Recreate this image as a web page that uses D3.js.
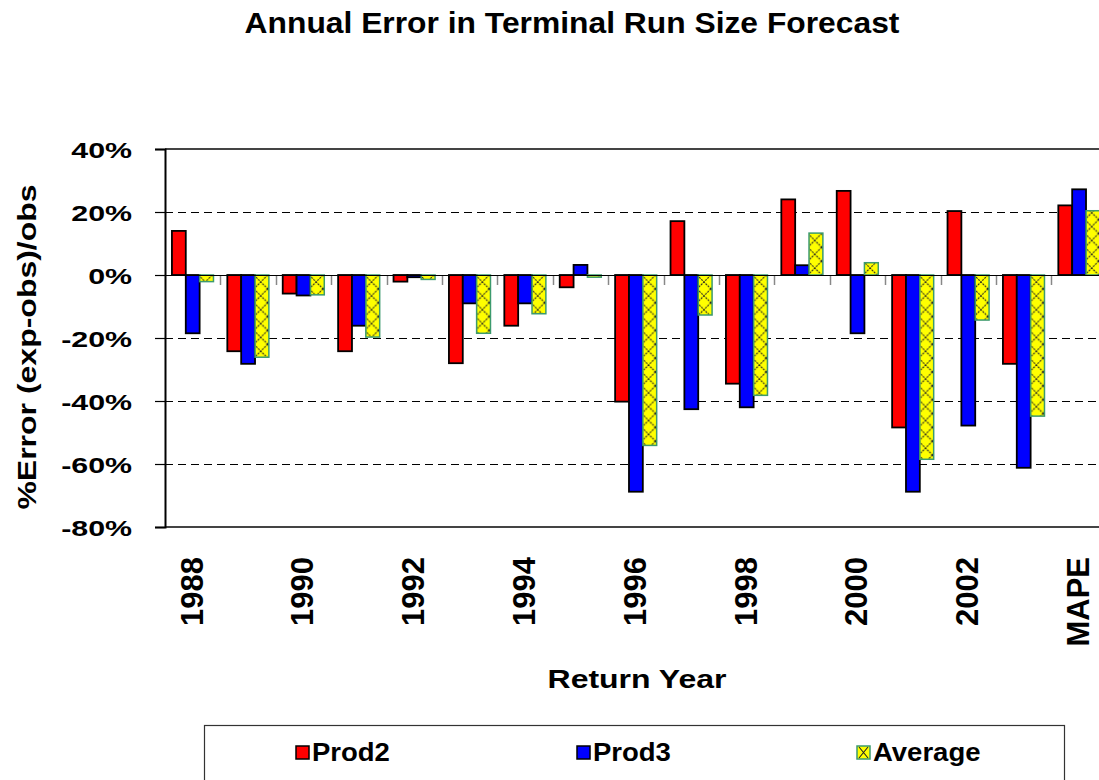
<!DOCTYPE html>
<html>
<head>
<meta charset="utf-8">
<script src="https://cdn.jsdelivr.net/npm/d3@7"></script>
<style>
  body { margin: 0; background: #fff; }
  text { font-family: "Liberation Sans", Arial, sans-serif; font-weight: bold; fill: #000; }
</style>
</head>
<body>
<div id="chart"></div>
<script>
// dades
let anys = ['1988', '1989', '1990', '1991', '1992', '1993', '1994', '1995', '1996',
  '1997', '1998', '1999', '2000', '2001', '2002', '2003', 'MAPE']
let prod2 = [14, -24.2, -5.9, -24.2, -2.1, -28, -16.1, -3.9, -40.2, 17.1, -34.5, 24, 26.7, -48.4, 20.3, -28.2, 22.1]
let prod3 = [-18.5, -28.2, -6.5, -16.1, -0.7, -9, -9, 3.2, -68.8, -42.6, -42, 3.1, -18.5, -68.8, -47.8, -61.2, 27.2]
let mitjana = [-2.1, -26.1, -6.3, -19.7, -1.4, -18.5, -12.3, -0.7, -54.1, -12.7, -38.2, 13.3, 3.9, -58.5, -14.3, -44.8, 20.4]
let series = ['Prod2', 'Prod3', 'Average']
let yTicks = [40, 20, 0, -20, -40, -60, -80]

// mides
let ample = 1099
let alt = 780
let esq = 165
let pas = 55.4
let dalt = 149
let baix = 527

let svg = d3.select('#chart')
  .append('svg')
  .attr('width', ample)
  .attr('height', alt)

let x0 = d3.scaleBand()
  .domain(anys)
  .range([esq, esq + anys.length * pas])
  .padding(0)

let x1 = d3.scaleBand()
  .domain(series)
  .range([0, x0.bandwidth()])
  .paddingInner(0)
  .paddingOuter(0.5)

let y = d3.scaleLinear()
  .domain([-80, 40])
  .range([baix, dalt])

// línies nítides
let yn = v => Math.round(y(v)) + 0.5

let colors = { Prod2: '#ff0000', Prod3: '#0000ff', Average: '#ffff00' }
let vores = { Prod2: '#000', Prod3: '#000', Average: '#3c9a6e' }

// patró de creus per la mitjana
let bw = x1.bandwidth()
let defs = svg.append('defs')
let pat = defs.append('pattern')
  .attr('id', 'creu')
  .attr('patternUnits', 'userSpaceOnUse')
  .attr('x', x0(anys[0]) + x1('Average'))
  .attr('y', y(0))
  .attr('width', bw)
  .attr('height', bw)
pat.append('rect').attr('width', bw).attr('height', bw).attr('fill', '#ffff00')
pat.append('path')
  .attr('d', `M0,0L${bw},${bw}M${bw},0L0,${bw}`)
  .attr('stroke', '#222')
  .attr('stroke-width', 1.1)
  .attr('stroke-dasharray', '2,1')

// graella
svg.append('g')
  .selectAll('line')
  .data([20, -20, -40, -60])
  .enter()
  .append('line')
  .attr('x1', esq)
  .attr('x2', ample)
  .attr('y1', d => yn(d))
  .attr('y2', d => yn(d))
  .attr('stroke', '#000')
  .attr('stroke-width', 1)
  .attr('shape-rendering', 'crispEdges')
  .attr('stroke-dasharray', '8,5')

// marc dalt i baix
svg.append('g')
  .selectAll('line')
  .data([40, -80])
  .enter()
  .append('line')
  .attr('x1', esq)
  .attr('x2', ample)
  .attr('y1', d => Math.round(y(d)))
  .attr('y2', d => Math.round(y(d)))
  .attr('stroke', '#444')
  .attr('stroke-width', 2)

// marques de categoria sota el zero
svg.append('g')
  .selectAll('line')
  .data(anys.slice(1))
  .enter()
  .append('line')
  .attr('x1', d => Math.round(x0(d)) + 0.5)
  .attr('x2', d => Math.round(x0(d)) + 0.5)
  .attr('y1', y(0))
  .attr('y2', y(0) + 10)
  .attr('stroke', '#888')
  .attr('stroke-width', 1.5)

// barres
let taula = anys.map((a, i) => ({ any: a, Prod2: prod2[i], Prod3: prod3[i], Average: mitjana[i] }))

svg.append('g')
  .selectAll('g')
  .data(taula)
  .enter()
  .append('g')
  .attr('transform', d => `translate(${x0(d.any)},0)`)
  .selectAll('rect')
  .data(d => series.map(s => ({ s: s, v: d[s] })))
  .enter()
  .append('rect')
  .attr('x', d => x1(d.s))
  .attr('width', bw)
  .attr('y', d => y(Math.max(0, d.v)))
  .attr('height', d => Math.abs(y(d.v) - y(0)))
  .attr('fill', d => d.s === 'Average' ? 'url(#creu)' : colors[d.s])
  .attr('stroke', d => vores[d.s])
  .attr('stroke-width', d => d.s === 'Average' ? 1.5 : 1.8)

// línia del zero
svg.append('line')
  .attr('x1', esq)
  .attr('x2', ample)
  .attr('y1', yn(0))
  .attr('y2', yn(0))
  .attr('stroke', '#000')
  .attr('stroke-width', 1.2)

// eix Y
let eixY = svg.append('g')
  .attr('transform', `translate(${esq},0)`)
  .call(d3.axisLeft(y).tickValues(yTicks).tickSize(10).tickFormat(d => d + '%'))
eixY.select('.domain').attr('stroke', '#000').attr('stroke-width', 2)
eixY.selectAll('.tick line').attr('stroke', '#000').attr('stroke-width', 1.2)
eixY.selectAll('.tick text')
  .attr('x', null)
  .attr('dy', null)
  .attr('font-size', 22)
  .attr('font-family', '"Liberation Sans", Arial, sans-serif')
  .attr('font-weight', 'bold')
  .attr('transform', 'translate(-33,8) scale(1.38,1)')

// etiquetes X
svg.append('g')
  .selectAll('text')
  .data(anys.filter((d, i) => i % 2 === 0))
  .enter()
  .append('text')
  .attr('transform', d => `translate(${x0(d) + x0.bandwidth() / 2 - 1},557) rotate(-90)`)
  .attr('text-anchor', 'end')
  .attr('dy', '0.35em')
  .attr('font-size', 31)
  .text(d => d)

// títols
svg.append('text')
  .attr('transform', 'translate(572,33) scale(1.06,1)')
  .attr('text-anchor', 'middle')
  .attr('font-size', 30)
  .text('Annual Error in Terminal Run Size Forecast')

svg.append('text')
  .attr('transform', 'translate(637,688) scale(1.23,1)')
  .attr('text-anchor', 'middle')
  .attr('font-size', 26)
  .text('Return Year')

svg.append('text')
  .attr('transform', 'translate(36,347) rotate(-90) scale(1.28,1)')
  .attr('text-anchor', 'middle')
  .attr('font-size', 25)
  .text('%Error (exp-obs)/obs')

// llegenda
svg.append('rect')
  .attr('x', 204.5)
  .attr('y', 725.5)
  .attr('width', 860)
  .attr('height', 80)
  .attr('fill', '#fff')
  .attr('stroke', '#333')
  .attr('stroke-width', 1.2)

let posLlegenda = [296, 577, 857]
let items = svg.append('g')
  .selectAll('g')
  .data(series)
  .enter()
  .append('g')
  .attr('transform', (d, i) => `translate(${posLlegenda[i]},746)`)

let patL = defs.append('pattern')
  .attr('id', 'creuL')
  .attr('patternUnits', 'objectBoundingBox')
  .attr('width', 1)
  .attr('height', 1)
patL.append('rect').attr('width', 13).attr('height', 13).attr('fill', '#ffff00')
patL.append('path')
  .attr('d', 'M2,1L11,12M11,1L2,12')
  .attr('stroke', '#222')
  .attr('stroke-width', 1.1)

items.append('rect')
  .attr('width', 13)
  .attr('height', 13)
  .attr('fill', d => d === 'Average' ? 'url(#creuL)' : colors[d])
  .attr('stroke', d => vores[d])
  .attr('stroke-width', 1.5)

items.append('text')
  .attr('transform', 'translate(16,15) scale(1.1,1)')
  .attr('font-size', 25)
  .text(d => d)
</script>
</body>
</html>
